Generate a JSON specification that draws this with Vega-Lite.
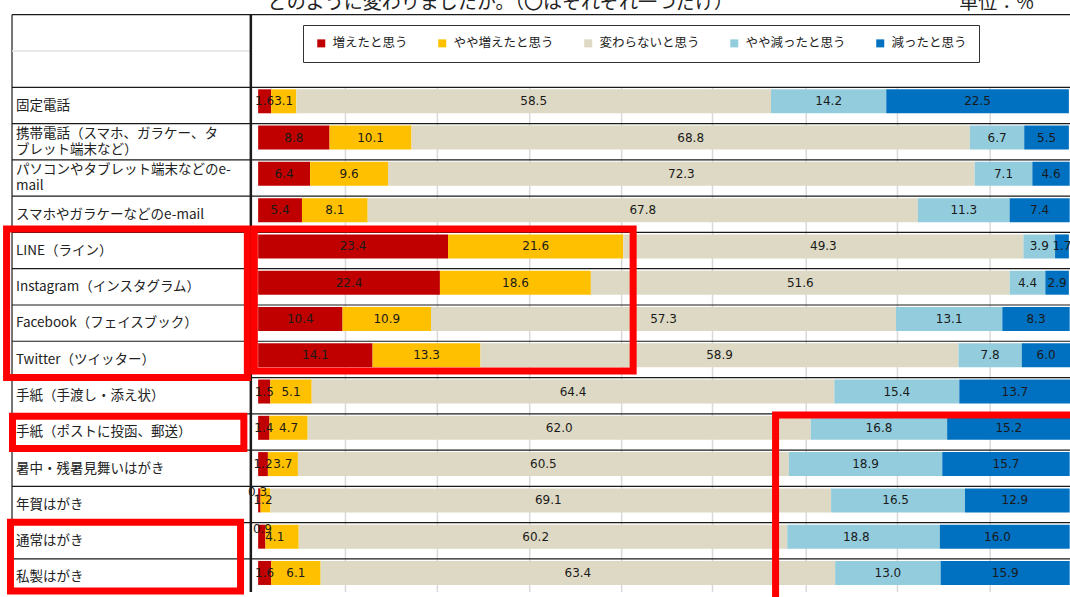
{
  "$schema": "https://vega.github.io/schema/vega-lite/v6.json",
  "width": 1070,
  "height": 597,
  "autosize": {"type": "none"},
  "padding": 0,
  "background": "white",
  "config": {"view": {"stroke": null}},
  "datasets": {
    "rows": [
      {"r": 0, "item": "固定電話", "増えたと思う": 1.6, "やや増えたと思う": 3.1, "変わらないと思う": 58.5, "やや減ったと思う": 14.2, "減ったと思う": 22.5},
      {"r": 1, "item": "携帯電話（スマホ、ガラケー、タ\nブレット端末など）", "増えたと思う": 8.8, "やや増えたと思う": 10.1, "変わらないと思う": 68.8, "やや減ったと思う": 6.7, "減ったと思う": 5.5},
      {"r": 2, "item": "パソコンやタブレット端末などのe-\nmail", "増えたと思う": 6.4, "やや増えたと思う": 9.6, "変わらないと思う": 72.3, "やや減ったと思う": 7.1, "減ったと思う": 4.6},
      {"r": 3, "item": "スマホやガラケーなどのe-mail", "増えたと思う": 5.4, "やや増えたと思う": 8.1, "変わらないと思う": 67.8, "やや減ったと思う": 11.3, "減ったと思う": 7.4},
      {"r": 4, "item": "LINE（ライン）", "増えたと思う": 23.4, "やや増えたと思う": 21.6, "変わらないと思う": 49.3, "やや減ったと思う": 3.9, "減ったと思う": 1.7},
      {"r": 5, "item": "Instagram（インスタグラム）", "増えたと思う": 22.4, "やや増えたと思う": 18.6, "変わらないと思う": 51.6, "やや減ったと思う": 4.4, "減ったと思う": 2.9},
      {"r": 6, "item": "Facebook（フェイスブック）", "増えたと思う": 10.4, "やや増えたと思う": 10.9, "変わらないと思う": 57.3, "やや減ったと思う": 13.1, "減ったと思う": 8.3},
      {"r": 7, "item": "Twitter（ツイッター）", "増えたと思う": 14.1, "やや増えたと思う": 13.3, "変わらないと思う": 58.9, "やや減ったと思う": 7.8, "減ったと思う": 6.0},
      {"r": 8, "item": "手紙（手渡し・添え状）", "増えたと思う": 1.5, "やや増えたと思う": 5.1, "変わらないと思う": 64.4, "やや減ったと思う": 15.4, "減ったと思う": 13.7},
      {"r": 9, "item": "手紙（ポストに投函、郵送）", "増えたと思う": 1.4, "やや増えたと思う": 4.7, "変わらないと思う": 62.0, "やや減ったと思う": 16.8, "減ったと思う": 15.2},
      {"r": 10, "item": "暑中・残暑見舞いはがき", "増えたと思う": 1.2, "やや増えたと思う": 3.7, "変わらないと思う": 60.5, "やや減ったと思う": 18.9, "減ったと思う": 15.7},
      {"r": 11, "item": "年賀はがき", "増えたと思う": 0.3, "やや増えたと思う": 1.2, "変わらないと思う": 69.1, "やや減ったと思う": 16.5, "減ったと思う": 12.9},
      {"r": 12, "item": "通常はがき", "増えたと思う": 0.9, "やや増えたと思う": 4.1, "変わらないと思う": 60.2, "やや減ったと思う": 18.8, "減ったと思う": 16.0},
      {"r": 13, "item": "私製はがき", "増えたと思う": 1.6, "やや増えたと思う": 6.1, "変わらないと思う": 63.4, "やや減ったと思う": 13.0, "減ったと思う": 15.9}
    ],
    "cats": [
      {"cat": "増えたと思う", "o": 1},
      {"cat": "やや増えたと思う", "o": 2},
      {"cat": "変わらないと思う", "o": 3},
      {"cat": "やや減ったと思う", "o": 4},
      {"cat": "減ったと思う", "o": 5}
    ],
    "grid": [
      {"gx": 10.76}, {"gx": 22.09}, {"gx": 33.46}, {"gx": 44.79},
      {"gx": 55.99}, {"gx": 67.54}, {"gx": 78.78}, {"gx": 90.2}
    ],
    "lines": [
      {"kind": "row", "x": -30.33, "x2": 100.04, "y": -2, "y2": -2},
      {"kind": "head", "x": -30.33, "x2": -0.9, "y": -1, "y2": -1},
      {"kind": "row", "x": -30.33, "x2": 100.04, "y": 0, "y2": 0},
      {"kind": "row", "x": -30.33, "x2": 100.04, "y": 1, "y2": 1},
      {"kind": "row", "x": -30.33, "x2": 100.04, "y": 2, "y2": 2},
      {"kind": "row", "x": -30.33, "x2": 100.04, "y": 3, "y2": 3},
      {"kind": "row", "x": -30.33, "x2": 100.04, "y": 4, "y2": 4},
      {"kind": "row", "x": -30.33, "x2": 100.04, "y": 5, "y2": 5},
      {"kind": "row", "x": -30.33, "x2": 100.04, "y": 6, "y2": 6},
      {"kind": "row", "x": -30.33, "x2": 100.04, "y": 7, "y2": 7},
      {"kind": "row", "x": -30.33, "x2": 100.04, "y": 8, "y2": 8},
      {"kind": "row", "x": -30.33, "x2": 100.04, "y": 9, "y2": 9},
      {"kind": "row", "x": -30.33, "x2": 100.04, "y": 10, "y2": 10},
      {"kind": "row", "x": -30.33, "x2": 100.04, "y": 11, "y2": 11},
      {"kind": "row", "x": -30.33, "x2": 100.04, "y": 12, "y2": 12},
      {"kind": "row", "x": -30.33, "x2": 100.04, "y": 13, "y2": 13},
      {"kind": "row", "x": -30.33, "x2": -30.33, "y": -2, "y2": 13.911},
      {"kind": "divider", "x": -0.9, "x2": -0.9, "y": -2, "y2": 13.911}
    ],
    "boxes": [
      {"x": -31.0, "x2": -1.33, "y": 3.905, "y2": 7.997},
      {"x": -0.47, "x2": 46.21, "y": 3.905, "y2": 7.818},
      {"x": -30.27, "x2": -1.76, "y": 9.068, "y2": 9.954},
      {"x": -30.52, "x2": -2.17, "y": 11.986, "y2": 13.884},
      {"x": 63.76, "x2": 102.0, "y": 9.032, "y2": 14.4}
    ],
    "notes": [
      {"t": "どのように変わりましたか。（〇はそれぞれ一つだけ）", "x": 1.19, "y": -2.15},
      {"t": "単位：%", "x": 86.4, "y": -2.15}
    ]
  },
  "layer": [
    {
      "data": {"name": "grid"},
      "mark": {"type": "rule", "color": "#d9d9d9", "strokeWidth": 1.5},
      "encoding": {
        "x": {"field": "gx", "type": "quantitative", "scale": {"domain": [-31.81, 100.04], "nice": false, "zero": false}, "axis": null},
        "y": {"datum": 0, "type": "quantitative", "scale": {"domain": [-2.268, 13.911], "nice": false, "zero": false, "reverse": true}, "axis": null},
        "y2": {"datum": 13.911}
      }
    },
    {
      "data": {"name": "rows"},
      "transform": [
        {"fold": ["増えたと思う", "やや増えたと思う", "変わらないと思う", "やや減ったと思う", "減ったと思う"], "as": ["cat", "v"]},
        {"lookup": "cat", "from": {"data": {"name": "cats"}, "key": "cat", "fields": ["o"]}}
      ],
      "mark": {"type": "bar", "orient": "horizontal", "height": 24, "yOffset": 14},
      "encoding": {
        "y": {"field": "r", "type": "quantitative", "scale": {"domain": [-2.268, 13.911], "nice": false, "zero": false, "reverse": true}, "axis": null},
        "x": {"field": "v", "type": "quantitative", "stack": "zero", "scale": {"domain": [-31.81, 100.04], "nice": false, "zero": false}, "axis": null},
        "order": {"field": "o", "type": "quantitative"},
        "color": {
          "field": "cat",
          "type": "nominal",
          "scale": {
            "domain": ["増えたと思う", "やや増えたと思う", "変わらないと思う", "やや減ったと思う", "減ったと思う"],
            "range": ["#C00000", "#FFC000", "#DDD9C4", "#93CDDD", "#0070C0"]
          },
          "legend": {
            "orient": "none",
            "legendX": 303,
            "legendY": 25,
            "direction": "horizontal",
            "title": null,
            "symbolType": "square",
            "symbolSize": 64,
            "symbolStrokeWidth": 0,
            "labelFontSize": 12.5,
            "labelFont": "Noto Sans CJK JP",
            "labelColor": "#222222",
            "labelOffset": 5,
            "columnPadding": 28,
            "padding": 12,
            "strokeColor": "#333333",
            "fillColor": "white"
          }
        }
      }
    },
    {
      "data": {"name": "rows"},
      "transform": [
        {"fold": ["増えたと思う", "やや増えたと思う", "変わらないと思う", "やや減ったと思う", "減ったと思う"], "as": ["cat", "v"]},
        {"lookup": "cat", "from": {"data": {"name": "cats"}, "key": "cat", "fields": ["o"]}}
      ],
      "layer": [
        {
          "transform": [{"filter": "datum.v >= 1"}],
          "mark": {"type": "text", "yOffset": 14, "fontSize": 12, "font": "DejaVu Sans", "color": "#1a1a1a", "baseline": "middle"},
          "encoding": {
            "y": {"field": "r", "type": "quantitative", "scale": {"domain": [-2.268, 13.911], "nice": false, "zero": false, "reverse": true}},
            "x": {"field": "v", "type": "quantitative", "stack": "zero", "bandPosition": 0.5, "scale": {"domain": [-31.81, 100.04], "nice": false, "zero": false}},
            "order": {"field": "o", "type": "quantitative"},
            "text": {"field": "v", "type": "quantitative", "format": ".1f"}
          }
        },
        {
          "transform": [{"filter": "datum.v < 1"}],
          "mark": {"type": "text", "yOffset": 6, "dx": -3, "fontSize": 12, "font": "DejaVu Sans", "color": "#1a1a1a", "baseline": "middle"},
          "encoding": {
            "y": {"field": "r", "type": "quantitative", "scale": {"domain": [-2.268, 13.911], "nice": false, "zero": false, "reverse": true}},
            "x": {"field": "v", "type": "quantitative", "scale": {"domain": [-31.81, 100.04], "nice": false, "zero": false}},
            "text": {"field": "v", "type": "quantitative", "format": ".1f"}
          }
        }
      ]
    },
    {
      "data": {"name": "lines"},
      "transform": [{"filter": "datum.kind == 'row'"}],
      "mark": {"type": "rule", "color": "#1a1a1a", "strokeWidth": 1.2},
      "encoding": {
        "x": {"field": "x", "type": "quantitative", "scale": {"domain": [-31.81, 100.04], "nice": false, "zero": false}},
        "x2": {"field": "x2"},
        "y": {"field": "y", "type": "quantitative", "scale": {"domain": [-2.268, 13.911], "nice": false, "zero": false, "reverse": true}},
        "y2": {"field": "y2"}
      }
    },
    {
      "data": {"name": "lines"},
      "transform": [{"filter": "datum.kind == 'head'"}],
      "mark": {"type": "rule", "color": "#e3e3e3", "strokeWidth": 1.5},
      "encoding": {
        "x": {"field": "x", "type": "quantitative", "scale": {"domain": [-31.81, 100.04], "nice": false, "zero": false}},
        "x2": {"field": "x2"},
        "y": {"field": "y", "type": "quantitative", "scale": {"domain": [-2.268, 13.911], "nice": false, "zero": false, "reverse": true}},
        "y2": {"field": "y2"}
      }
    },
    {
      "data": {"name": "lines"},
      "transform": [{"filter": "datum.kind == 'divider'"}],
      "mark": {"type": "rule", "color": "#1a1a1a", "strokeWidth": 2.5},
      "encoding": {
        "x": {"field": "x", "type": "quantitative", "scale": {"domain": [-31.81, 100.04], "nice": false, "zero": false}},
        "x2": {"field": "x2"},
        "y": {"field": "y", "type": "quantitative", "scale": {"domain": [-2.268, 13.911], "nice": false, "zero": false, "reverse": true}},
        "y2": {"field": "y2"}
      }
    },
    {
      "data": {"name": "rows"},
      "transform": [{"filter": "indexof(datum.item, '\\n') < 0"}],
      "mark": {"type": "text", "align": "left", "baseline": "middle", "font": "Noto Sans CJK JP", "fontSize": 13.5, "color": "#222222", "yOffset": 18.5},
      "encoding": {
        "x": {"datum": -29.84, "type": "quantitative", "scale": {"domain": [-31.81, 100.04], "nice": false, "zero": false}},
        "y": {"field": "r", "type": "quantitative", "scale": {"domain": [-2.268, 13.911], "nice": false, "zero": false, "reverse": true}},
        "text": {"field": "item", "type": "nominal"}
      }
    },
    {
      "data": {"name": "rows"},
      "transform": [{"filter": "indexof(datum.item, '\\n') >= 0"}],
      "mark": {"type": "text", "align": "left", "baseline": "middle", "font": "Noto Sans CJK JP", "fontSize": 13.5, "color": "#222222", "lineBreak": "\n", "lineHeight": 16, "yOffset": 10.5},
      "encoding": {
        "x": {"datum": -29.84, "type": "quantitative", "scale": {"domain": [-31.81, 100.04], "nice": false, "zero": false}},
        "y": {"field": "r", "type": "quantitative", "scale": {"domain": [-2.268, 13.911], "nice": false, "zero": false, "reverse": true}},
        "text": {"field": "item", "type": "nominal"}
      }
    },
    {
      "data": {"name": "boxes"},
      "mark": {"type": "rect", "fill": null, "stroke": "#FF0000", "strokeWidth": 7},
      "encoding": {
        "x": {"field": "x", "type": "quantitative", "scale": {"domain": [-31.81, 100.04], "nice": false, "zero": false}},
        "x2": {"field": "x2"},
        "y": {"field": "y", "type": "quantitative", "scale": {"domain": [-2.268, 13.911], "nice": false, "zero": false, "reverse": true}},
        "y2": {"field": "y2"}
      }
    },
    {
      "data": {"name": "notes"},
      "mark": {"type": "text", "align": "left", "baseline": "alphabetic", "font": "Noto Sans CJK JP", "fontSize": 19, "color": "#222222"},
      "encoding": {
        "x": {"field": "x", "type": "quantitative", "scale": {"domain": [-31.81, 100.04], "nice": false, "zero": false}},
        "y": {"field": "y", "type": "quantitative", "scale": {"domain": [-2.268, 13.911], "nice": false, "zero": false, "reverse": true}},
        "text": {"field": "t", "type": "nominal"}
      }
    }
  ]
}
